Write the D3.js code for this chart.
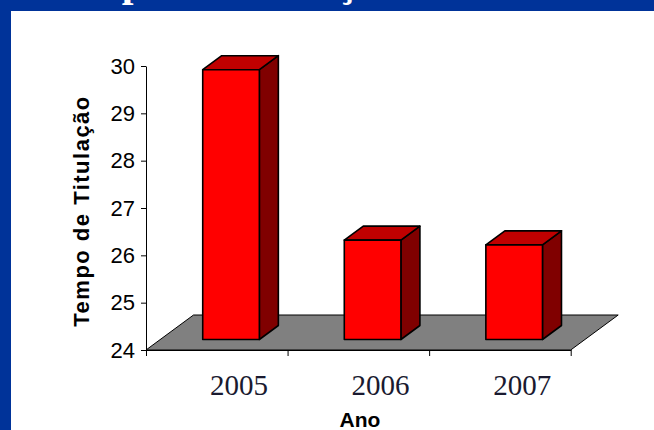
<!DOCTYPE html>
<html>
<head>
<meta charset="utf-8">
<script src="https://cdn.jsdelivr.net/npm/d3@7"></script>
<style>
  body { margin: 0; background: #fff; }
  svg { display: block; }
</style>
</head>
<body>
<div id="chart"></div>
<script>
// chart data
const anos = ["2005", "2006", "2007"];
const tempos = [29.7, 26.1, 26.0];
const yTicks = [24, 25, 26, 27, 28, 29, 30];
const tituloY = "Tempo de Titulação";
const tituloX = "Ano";
const tituloSlide = "Tempo de Titulação";

const width = 654, height = 430;
const x0 = 146, x1 = 570.7;      // front edge of the floor
const yBase = 350, yTop = 66;     // value axis extent
const depthX = 47.5, depthY = -35; // floor depth (3d look)
const front = 0.3, deep = 0.4;    // where the bars sit inside the depth

const svg = d3.select("#chart").append("svg")
    .attr("width", width)
    .attr("height", height);

// blue slide frame (top band + left band)
svg.append("rect").attr("x", 0).attr("y", 0).attr("width", width).attr("height", 11).attr("fill", "#003399");
svg.append("rect").attr("x", 0).attr("y", 0).attr("width", 11).attr("height", height).attr("fill", "#003399");
// slide title, only the descenders show under the crop
svg.append("text")
    .attr("x", 44)
    .attr("y", -4)
    .attr("fill", "#fff")
    .style("font", "bold 42px 'Liberation Serif', serif")
    .text(tituloSlide);

const y = d3.scaleLinear().domain([24, 30]).range([yBase, yTop]);
const x = d3.scaleBand().domain(anos).range([x0, x1]).paddingInner(0.6).paddingOuter(0.3);
const xEdge = d3.scaleLinear().domain([0, anos.length]).range([x0, x1]);
const bw = x.bandwidth();

// grey floor
svg.append("polygon")
    .attr("points", [[x0, yBase], [x1, yBase], [x1 + depthX, yBase + depthY], [x0 + depthX, yBase + depthY]].join(" "))
    .attr("fill", "#808080")
    .attr("stroke", "#000")
    .attr("stroke-width", 1);

// bars
const bars = svg.append("g").selectAll("g")
    .data(anos.map((a, i) => ({ ano: a, v: tempos[i] })))
    .join("g");

const fx = d => x(d.ano) + depthX * front;
const fBottom = yBase + depthY * front;
const fTop = d => y(d.v) + depthY * front;
const bx = depthX * deep, by = depthY * deep;

bars.append("polygon") // side
    .attr("points", d => [[fx(d) + bw, fTop(d)], [fx(d) + bw + bx, fTop(d) + by], [fx(d) + bw + bx, fBottom + by], [fx(d) + bw, fBottom]].join(" "))
    .attr("fill", "#800000");
bars.append("polygon") // top
    .attr("points", d => [[fx(d), fTop(d)], [fx(d) + bw, fTop(d)], [fx(d) + bw + bx, fTop(d) + by], [fx(d) + bx, fTop(d) + by]].join(" "))
    .attr("fill", "#c00000");
bars.append("rect") // front
    .attr("x", fx)
    .attr("y", fTop)
    .attr("width", bw)
    .attr("height", d => fBottom - fTop(d))
    .attr("fill", "#ff0000");
bars.selectAll("polygon, rect")
    .attr("stroke", "#000")
    .attr("stroke-width", 1.6)
    .attr("stroke-linejoin", "round");

// value axis
const yAxis = svg.append("g")
    .attr("transform", `translate(${x0},0)`)
    .call(d3.axisLeft(y).tickValues(yTicks).tickFormat(d3.format("d")).tickSize(5).tickSizeOuter(0).tickPadding(6));
yAxis.attr("font-family", null).attr("font-size", null);
yAxis.selectAll("text")
    .style("font", "22px 'Liberation Sans', Arial, sans-serif")
    .attr("fill", "#000");
yAxis.selectAll("line, path").attr("stroke", "#000");

// category axis ticks (no labels)
const xAxis = svg.append("g")
    .attr("transform", `translate(0,${yBase})`)
    .call(d3.axisBottom(xEdge).tickValues(d3.range(anos.length + 1)).tickFormat("").tickSize(6).tickSizeOuter(0));
xAxis.selectAll("line, path").attr("stroke", "#000");

// year labels
svg.append("g").selectAll("text")
    .data(anos)
    .join("text")
    .attr("x", d => x(d) + bw / 2 + depthX * front + 8)
    .attr("y", 395)
    .attr("text-anchor", "middle")
    .attr("fill", "#1a1a30")
    .style("font", "29px 'Liberation Serif', 'Times New Roman', serif")
    .text(d => d);

// axis titles
svg.append("text")
    .attr("x", 360)
    .attr("y", 427)
    .attr("text-anchor", "middle")
    .style("font", "bold 21px 'Liberation Sans', Arial, sans-serif")
    .text(tituloX);

svg.append("text")
    .attr("transform", "translate(89,211.7) rotate(-90)")
    .attr("text-anchor", "middle")
    .attr("textLength", 230)
    .attr("lengthAdjust", "spacing")
    .style("font", "bold 22px 'Liberation Sans', Arial, sans-serif")
    .text(tituloY);
</script>
</body>
</html>
